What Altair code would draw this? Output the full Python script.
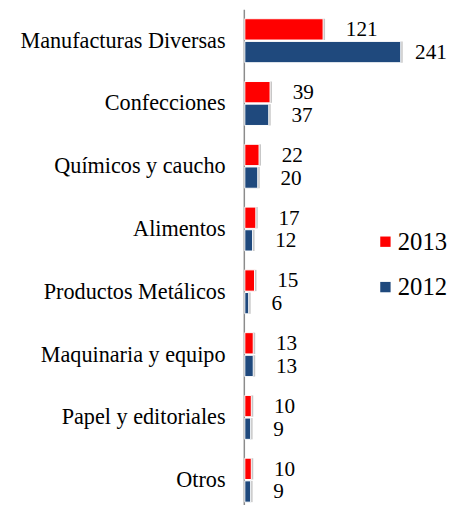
import altair as alt
import pandas as pd

categories = ["Manufacturas Diversas", "Confecciones", "Químicos y caucho", "Alimentos",
              "Productos Metálicos", "Maquinaria y equipo", "Papel y editoriales", "Otros"]
values_2013 = [121, 39, 22, 17, 15, 13, 10, 10]
values_2012 = [241, 37, 20, 12, 6, 13, 9, 9]
years = ["2013", "2012"]
colors = ["#FF0000", "#1F497D"]

rows = []
for c, a, b in zip(categories, values_2013, values_2012):
    rows.append({"cat": c, "year": "2013", "v": a})
    rows.append({"cat": c, "year": "2012", "v": b})
df = pd.DataFrame(rows)

FONT = "Liberation Serif"

y_enc = alt.Y("cat:N", sort=categories,
              scale=alt.Scale(range=[-3, 506], paddingInner=0.3, paddingOuter=0.15, round=False),
              axis=alt.Axis(title=None, ticks=False, grid=False, domain=True, offset=1,
                            domainColor="#8c8c8c", domainWidth=1.5,
                            labelFont=FONT, labelFontSize=22.5, labelColor="#000",
                            labelPadding=19, labelLimit=300))
yoff = alt.YOffset("year:N", sort=years,
                   scale=alt.Scale(domain=years, paddingInner=0.06, round=False))
x_scale = alt.Scale(domain=[0, 305])
x_enc = alt.X("v:Q", scale=x_scale, axis=None)

base = alt.Chart(df)

shadow = base.mark_bar(color="#000000", opacity=0.22, xOffset=2, yOffset=2).encode(
    x=x_enc, y=y_enc, yOffset=yoff)

bars = base.mark_bar(stroke="white", strokeWidth=1).encode(
    x=x_enc, y=y_enc, yOffset=yoff,
    color=alt.Color("year:N", sort=years,
                    scale=alt.Scale(domain=years, range=colors),
                    legend=alt.Legend(title=None, orient="none", legendX=130, legendY=220,
                                      symbolType="square", symbolSize=110,
                                      symbolStrokeWidth=0, labelFont=FONT,
                                      labelFontSize=25, labelColor="#000",
                                      rowPadding=20, labelOffset=0, padding=0)))

text = base.transform_calculate(lx="min(datum.v, 228)").mark_text(
    align="left", baseline="middle", dx=23, dy=1, font=FONT,
    fontSize=21.5, color="#000").encode(
    x=alt.X("lx:Q", scale=x_scale, axis=None), y=y_enc, yOffset=yoff, text="v:Q")

chart = alt.layer(shadow, bars, text).properties(
    width=200, height=496,
    autosize=alt.AutoSizeParams(type="none"),
    padding={"left": 240, "top": 1, "right": 12, "bottom": 0},
).configure_view(stroke=None)

chart.save("out.html", embed_options={"renderer": "svg", "actions": False})
